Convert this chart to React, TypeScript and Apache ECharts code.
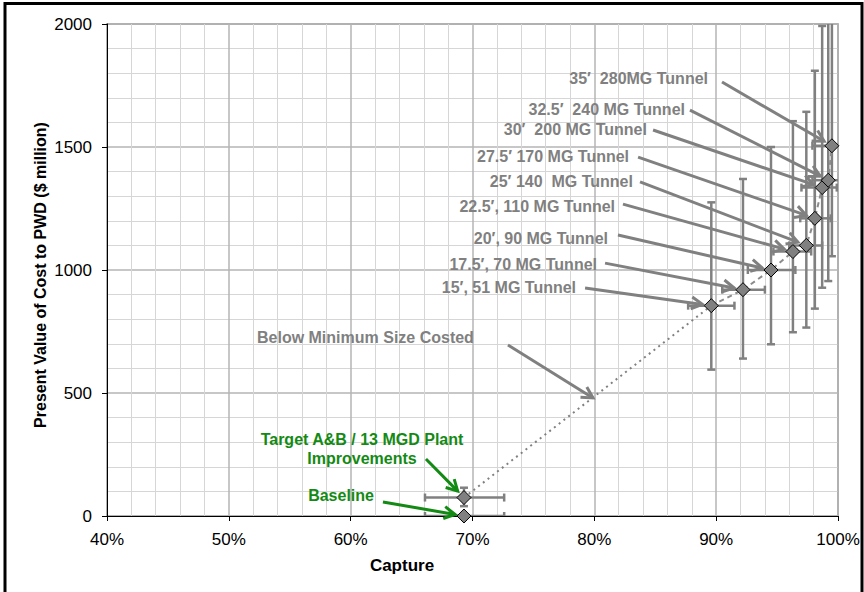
import React, { useEffect, useRef } from 'react';
import * as echarts from 'echarts';

const FONT = '"Liberation Sans", Arial, sans-serif';
const GRAY = '#808080';
const GREEN = '#138a13';

// Alternatives, in order: baseline, plant improvements, then tunnel sizes
const pointNames = [
  'Baseline',
  'Target A&B / 13 MGD Plant\nImprovements',
  '15′, 51 MG Tunnel',
  '17.5′, 70 MG Tunnel',
  '20′, 90 MG Tunnel',
  '22.5′, 110 MG Tunnel',
  '25′ 140  MG Tunnel',
  '27.5′ 170 MG Tunnel',
  '30′  200 MG Tunnel',
  '32.5′  240 MG Tunnel',
  '35′  280MG Tunnel',
];
// Capture (%) and present value of cost ($ million)
const capture = [69.3, 69.3, 89.6, 92.2, 94.5, 96.3, 97.4, 98.1, 98.7, 99.2, 99.5];
const cost = [0, 75, 855, 920, 1000, 1075, 1100, 1210, 1335, 1365, 1505];
// Uncertainty ranges
const captureLow = [66.1, 66.1, 87.7, 90.5, 92.6, 94.7, 96.0, 96.9, 97.0, 97.9, 97.9];
const captureHigh = [72.6, 72.6, 91.5, 94.0, 96.5, 97.8, 98.7, 99.4, 99.9, 100.3, 100.6];
const costLow = [0, 40, 595, 640, 698, 747, 766, 843, 928, 955, 1056];
const costHigh = [0, 115, 1275, 1370, 1500, 1605, 1643, 1810, 1992, 2250, 2400];

const xRange = [40, 100];
const xStep = 10;
const yRange = [0, 2000];
const yStep = 500;

const belowMinLabel = 'Below Minimum Size Costed';

// Callout placement in axis units: text anchor, arrow start, arrow target
const calloutLayout: any[] = [
  { point: 10, text: [89.33, 1780], from: [90.48, 1764] },
  { point: 9, text: [87.44, 1654], from: [87.85, 1650] },
  { point: 8, text: [84.32, 1573], from: [84.82, 1569] },
  { point: 7, text: [82.85, 1463], from: [83.59, 1459] },
  { point: 6, text: [83.17, 1358], from: [83.75, 1358] },
  { point: 5, text: [81.7, 1260], from: [82.35, 1268] },
  { point: 4, text: [81.12, 1130], from: [81.94, 1142] },
  { point: 3, text: [80.22, 1024], from: [80.88, 1028] },
  { point: 2, text: [78.5, 927], from: [79.24, 927] },
  { label: belowMinLabel, text: [52.31, 724], align: 'left', from: [72.91, 695], to: [79.89, 480] },
  { point: 1, text: [60.93, 272], align: 'center', from: [66.18, 232], color: GREEN },
  { point: 0, text: [59.21, 85], align: 'center', from: [62.65, 57], color: GREEN },
];

function errorBarItem(params: any, api: any) {
  const i = params.dataIndex;
  const style = { stroke: GRAY, lineWidth: 2.5 };
  const cap = 4;
  const children: any[] = [];
  if (costHigh[i] > costLow[i]) {
    const lo = api.coord([capture[i], costLow[i]]);
    const hi = api.coord([capture[i], costHigh[i]]);
    children.push({ type: 'line', shape: { x1: lo[0], y1: lo[1], x2: hi[0], y2: hi[1] }, style });
    children.push({ type: 'line', shape: { x1: lo[0] - cap, y1: lo[1], x2: lo[0] + cap, y2: lo[1] }, style });
    children.push({ type: 'line', shape: { x1: hi[0] - cap, y1: hi[1], x2: hi[0] + cap, y2: hi[1] }, style });
  }
  if (captureHigh[i] > captureLow[i]) {
    const l = api.coord([captureLow[i], cost[i]]);
    const r = api.coord([captureHigh[i], cost[i]]);
    children.push({ type: 'line', shape: { x1: l[0], y1: l[1], x2: r[0], y2: r[1] }, style });
    children.push({ type: 'line', shape: { x1: l[0], y1: l[1] - cap, x2: l[0], y2: l[1] + cap }, style });
    children.push({ type: 'line', shape: { x1: r[0], y1: r[1] - cap, x2: r[0], y2: r[1] + cap }, style });
  }
  return { type: 'group', children };
}

function calloutItem(params: any, api: any) {
  const c = calloutLayout[params.dataIndex];
  const color = c.color || GRAY;
  const from = api.coord(c.from);
  const hasPoint = c.point !== undefined;
  const to = hasPoint ? api.coord([capture[c.point], cost[c.point]]) : api.coord(c.to);
  const shorten = hasPoint ? 9 : 0;
  const dx = to[0] - from[0];
  const dy = to[1] - from[1];
  const len = Math.hypot(dx, dy);
  const ux = dx / len;
  const uy = dy / len;
  const tip = [to[0] - ux * shorten, to[1] - uy * shorten];
  const hl = 11;
  const hw = 6;
  const p1 = [tip[0] - ux * hl - uy * hw, tip[1] - uy * hl + ux * hw];
  const p2 = [tip[0] - ux * hl + uy * hw, tip[1] - uy * hl - ux * hw];
  const t = api.coord(c.text);
  const text = hasPoint ? pointNames[c.point] : c.label;
  return {
    type: 'group',
    children: [
      { type: 'line', shape: { x1: from[0], y1: from[1], x2: tip[0], y2: tip[1] }, style: { stroke: color, lineWidth: 3 } },
      { type: 'polyline', shape: { points: [p1, tip, p2] }, style: { stroke: color, lineWidth: 3, fill: null } },
      {
        type: 'text',
        x: t[0],
        y: t[1],
        style: {
          text,
          fill: color,
          fontSize: 16,
          fontWeight: 'bold',
          fontFamily: FONT,
          align: c.align || 'right',
          verticalAlign: 'middle',
          lineHeight: 19,
        },
      },
    ],
  };
}

export default function App() {
  const ref = useRef<HTMLDivElement>(null);

  useEffect(() => {
    if (!ref.current) return;
    const chart = echarts.init(ref.current, null, { renderer: 'svg' });

    const points = capture.map((x, i) => [x, cost[i]]);
    const axisCommon = {
      type: 'value',
      axisLine: { show: true, onZero: false, lineStyle: { color: '#000', width: 1 } },
      axisTick: { show: true, length: 5, lineStyle: { color: '#000', width: 1 } },
      splitLine: { show: true, lineStyle: { color: '#b4b4b4', width: 1.5 } },
      minorTick: { show: false, splitNumber: 5 },
      minorSplitLine: { show: true, lineStyle: { color: '#d6d6d6', width: 1 } },
    };

    chart.setOption({
      animation: false,
      grid: {
        left: 107,
        right: 26,
        top: 24,
        bottom: 76,
        show: true,
        borderColor: '#8a8a8a',
        borderWidth: 1.5,
        backgroundColor: 'transparent',
      },
      xAxis: {
        ...axisCommon,
        min: xRange[0],
        max: xRange[1],
        interval: xStep,
        axisLabel: { formatter: (v: number) => `${v}%`, color: '#000', fontSize: 17, fontFamily: FONT, margin: 15 },
      },
      yAxis: {
        ...axisCommon,
        min: yRange[0],
        max: yRange[1],
        interval: yStep,
        axisLabel: { formatter: (v: number) => String(v), color: '#000', fontSize: 17, fontFamily: FONT, margin: 15 },
      },
      graphic: [
        {
          type: 'rect',
          shape: { x: 5, y: 3.5, width: 857, height: 620 },
          style: { stroke: '#000', lineWidth: 3, fill: null },
          silent: true,
        },
        {
          type: 'text',
          x: 40,
          y: 275,
          rotation: Math.PI / 2,
          style: {
            text: 'Present Value of Cost to PWD ($ million)',
            fontSize: 16,
            fontWeight: 'bold',
            fontFamily: FONT,
            fill: '#000',
            align: 'center',
            verticalAlign: 'middle',
          },
        },
        {
          type: 'text',
          x: 402,
          y: 565,
          style: {
            text: 'Capture',
            fontSize: 17,
            fontWeight: 'bold',
            fontFamily: FONT,
            fill: '#000',
            align: 'center',
            verticalAlign: 'middle',
          },
        },
      ],
      series: [
        {
          type: 'custom',
          name: 'range',
          data: points,
          encode: { x: 0, y: 1 },
          renderItem: errorBarItem,
          clip: true,
          silent: true,
          z: 2,
        },
        {
          type: 'line',
          name: 'below minimum',
          data: [points[1], points[2]],
          symbol: 'none',
          lineStyle: { color: GRAY, width: 2, type: [2, 4] },
          silent: true,
          z: 3,
        },
        {
          type: 'line',
          name: 'tunnels',
          data: points.slice(2),
          symbol: 'none',
          lineStyle: { color: '#8c8c8c', width: 2, type: [5, 4] },
          silent: true,
          z: 3,
        },
        {
          type: 'scatter',
          name: 'alternatives',
          data: points,
          symbol: 'diamond',
          symbolSize: 14,
          itemStyle: { color: GRAY, borderColor: '#000', borderWidth: 1, opacity: 1 },
          silent: true,
          z: 4,
        },
        {
          type: 'custom',
          name: 'callouts',
          data: calloutLayout.map((c) => c.from),
          encode: { x: 0, y: 1 },
          renderItem: calloutItem,
          clip: false,
          silent: true,
          z: 5,
        },
      ],
    });

    return () => chart.dispose();
  }, []);

  return (
    <div
      ref={ref}
      style={{ position: 'absolute', left: 0, top: 0, width: 864, height: 592, background: '#fff' }}
    />
  );
}
